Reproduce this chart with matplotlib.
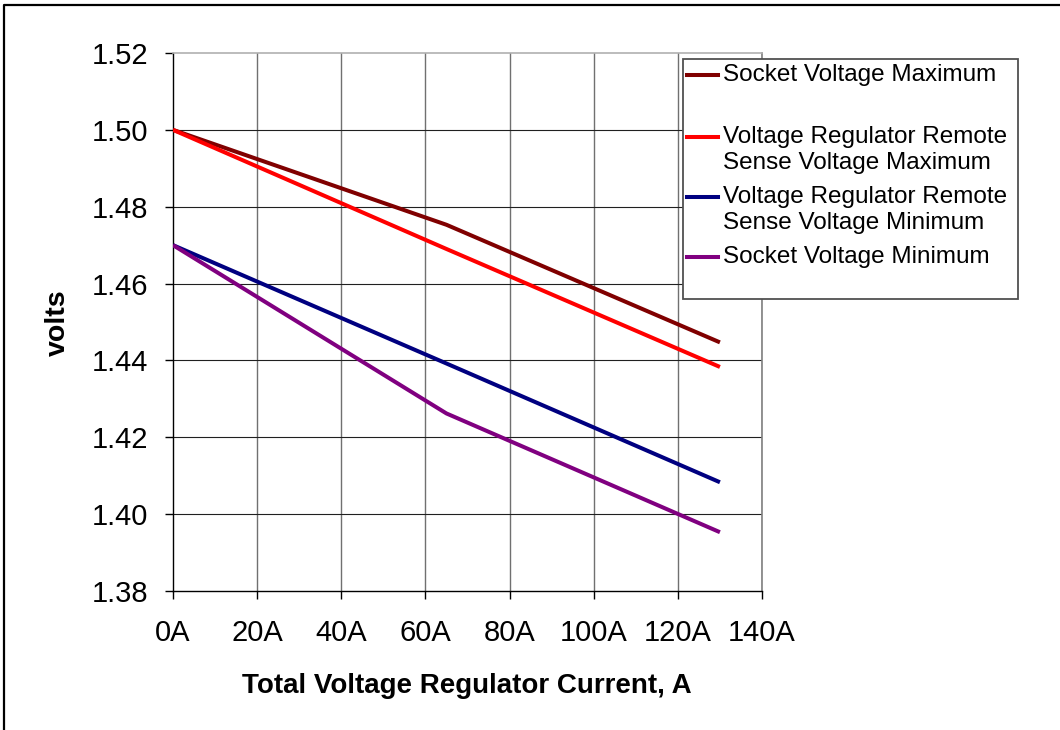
import matplotlib.pyplot as plt
from matplotlib.lines import Line2D
from matplotlib.patches import Rectangle
from matplotlib.ticker import FuncFormatter

plt.rcParams['font.family'] = ['Liberation Sans', 'DejaVu Sans']

# load line data, volts vs total VR current
current = [0, 65, 130]
socket_max = [1.500, 1.4753, 1.4447]
vr_max = [1.500, 1.4690, 1.4383]
vr_min = [1.470, 1.4392, 1.4083]
socket_min = [1.470, 1.4262, 1.3953]

labels = [["Socket Voltage Maximum"],
          ["Voltage Regulator Remote", "Sense Voltage Maximum"],
          ["Voltage Regulator Remote", "Sense Voltage Minimum"],
          ["Socket Voltage Minimum"]]
colors = ["#800000", "#ff0000", "#000080", "#800080"]
series = [socket_max, vr_max, vr_min, socket_min]

W, H = 1060, 730
fig = plt.figure(figsize=(W / 100, H / 100), dpi=100)
ax = fig.add_axes([173 / W, 1 - 591 / H, (762 - 173) / W, (591 - 53) / H])

for ys, c in zip(series, colors):
    ax.plot(current, ys, color=c, lw=2.9, solid_capstyle='butt', zorder=3)

ax.set_xlim(0, 140)
ax.set_ylim(1.38, 1.52)
ax.set_xticks(range(0, 141, 20))
ax.set_yticks([1.38 + 0.02 * i for i in range(8)])
ax.xaxis.set_major_formatter(FuncFormatter(lambda v, p: "%dA" % v))
ax.yaxis.set_major_formatter(FuncFormatter(lambda v, p: "%.2f" % v))
ax.tick_params(axis='both', direction='out', length=6, width=1, labelsize=21, colors='black')
ax.tick_params(axis='y', pad=12)
ax.tick_params(axis='x', pad=14)

# grid
for x in range(20, 141, 20):
    ax.axvline(x, color='#707070', lw=1.0, zorder=1)
for i in range(1, 7):
    ax.axhline(1.38 + 0.02 * i, color='#202020', lw=0.8, zorder=1)

ax.spines['top'].set_color('#b0b0b0')
ax.spines['right'].set_color('#808080')
for s in ['top', 'right']:
    ax.spines[s].set_linewidth(1.2)
for s in ['left', 'bottom']:
    ax.spines[s].set_linewidth(1.0)
    ax.spines[s].set_color('black')

ax.set_ylabel("volts", fontsize=20.5, fontweight='bold')
ax.yaxis.set_label_coords(71 / W, 1 - 323 / H, transform=fig.transFigure)
fig.text(467 / W, 1 - 686 / H, "Total Voltage Regulator Current, A",
         fontsize=20, fontweight='bold', ha='center', va='center')

# legend box
fig.add_artist(Rectangle((683 / W, 1 - 299 / H), (1018 - 683) / W, (299 - 59) / H,
                         transform=fig.transFigure, facecolor='white',
                         edgecolor='#505050', lw=1.3, zorder=5))
row_y = [[75], [137, 163], [197, 223], [257]]
for lines, c, ys in zip(labels, colors, row_y):
    fig.add_artist(Line2D([687 / W, 718 / W], [1 - ys[0] / H] * 2,
                          transform=fig.transFigure, color=c, lw=2.9, zorder=6))
    for txt, y in zip(lines, ys):
        fig.text(723 / W, 1 - y / H, txt, fontsize=17.5, ha='left', va='center', zorder=6)

# outer frame
fig.add_artist(Line2D([4 / W, 4 / W, 1.0], [0.0, 1 - 5 / H, 1 - 5 / H],
                      transform=fig.transFigure, color='black', lw=1.6))

fig.savefig("out.png", dpi=100)
